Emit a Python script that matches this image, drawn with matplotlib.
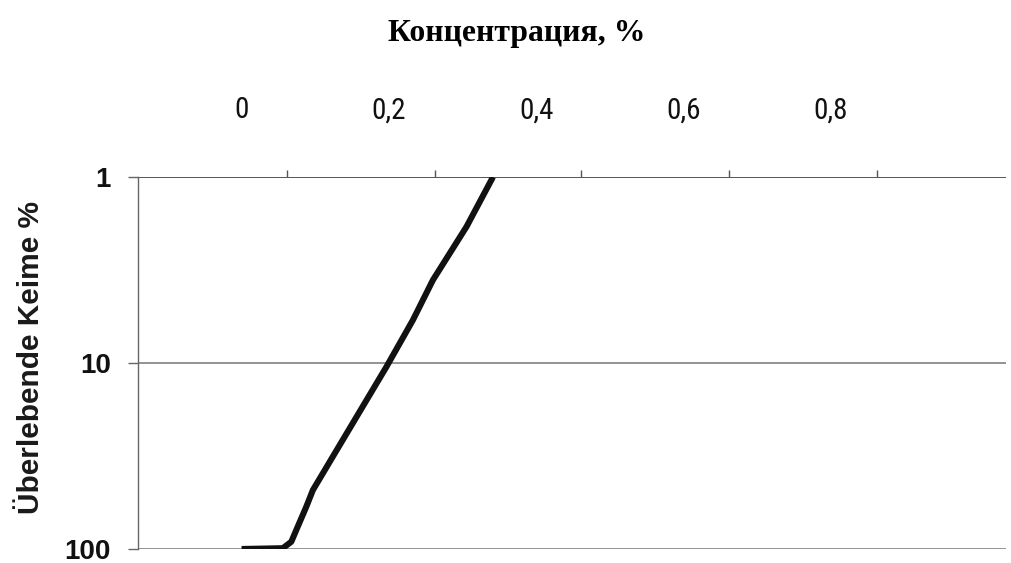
import matplotlib
matplotlib.use("Agg")
import matplotlib.pyplot as plt

# Data
concentration = [0.0, 0.03, 0.056, 0.0675, 0.0743, 0.0878, 0.0968, 0.1466, 0.1965, 0.2326, 0.2597, 0.3053, 0.3412]
survivors_pct = [100, 99.5, 99, 91.4, 79, 59.3, 48.2, 22.5, 10.5, 5.87, 3.58, 1.85, 1.0]

x_label_values = [0.0, 0.2, 0.4, 0.6, 0.8]
x_label_texts = ["0", "0,2", "0,4", "0,6", "0,8"]
x_tickmark_values = [0.062, 0.262, 0.461, 0.661, 0.862]
y_ticks = [1, 10, 100]
y_tick_texts = ["1", "10", "100"]

title = "Концентрация, %"
ylabel = "Überlebende Keime %"

fig = plt.figure(figsize=(10.12, 5.63), dpi=100)
ax = fig.add_axes([138.5 / 1012, 1 - 549 / 563, (1006 - 138.5) / 1012, (549 - 177) / 563])

ax.plot(concentration, survivors_pct, color="#111111", lw=4.4, solid_capstyle="butt",
        solid_joinstyle="round", zorder=5)

ax.set_yscale("log")
ax.set_ylim(100, 1)
ax.set_xlim(-0.1399, 1.0375)

# horizontal lines
for yv in y_ticks:
    ax.axhline(yv, color="#8a8a8a" if yv != 1 else "#555555", lw=1.3 if yv != 1 else 1.4, zorder=1)

for s in ["right", "bottom", "top"]:
    ax.spines[s].set_visible(False)
ax.spines["left"].set_color("#666666")
ax.spines["left"].set_linewidth(1.0)

# y ticks
ax.set_yticks(y_ticks)
ax.set_yticklabels(y_tick_texts)
ax.yaxis.set_minor_locator(matplotlib.ticker.NullLocator())
ax.tick_params(axis="y", which="major", direction="out", length=7, width=1.0, color="#666666",
               pad=13, labelsize=20)
for t in ax.get_yticklabels():
    t.set_fontfamily(["Liberation Sans", "DejaVu Sans"])
    t.set_fontweight("bold")
    t.set_color("#111111")

# x: tick marks on the top line, labels offset
ax.xaxis.tick_top()
ax.set_xticks(x_tickmark_values, minor=True)
ax.set_xticks(x_label_values)
ax.set_xticklabels(x_label_texts)
ax.tick_params(axis="x", which="minor", direction="out", length=5, width=1.0, color="#555555",
               top=True, bottom=False, labeltop=False)
ax.tick_params(axis="x", which="major", length=0, top=True, bottom=False, labeltop=True,
               labelbottom=False, pad=38, labelsize=21)
for t in ax.get_xticklabels():
    t.set_fontfamily(["Roboto Condensed", "DejaVu Sans"])
    t.set_color("#111111")

fig.text(517 / 1012, 1 - 33 / 563, title, ha="center", va="center",
         fontsize=22.9, fontweight="bold", family=["Liberation Serif", "DejaVu Serif"], color="#000000")
fig.text(31 / 1012, 1 - 357 / 563, ylabel, ha="center", va="center", rotation=90,
         fontsize=21.5, fontweight="bold", family=["Liberation Sans", "DejaVu Sans"], color="#1a1a1a")

fig.savefig("out.png", dpi=100, facecolor="white")
